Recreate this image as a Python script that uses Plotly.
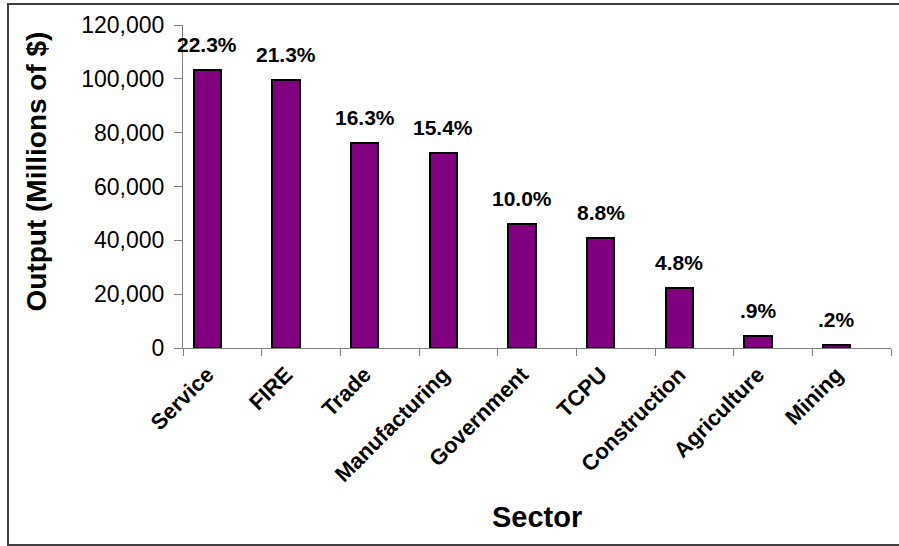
import plotly.graph_objects as go

sectors = ["Service", "FIRE", "Trade", "Manufacturing", "Government",
           "TCPU", "Construction", "Agriculture", "Mining"]
output = [103300, 99500, 76000, 72300, 46000, 40900, 22300, 4300, 1000]
share_labels = ["22.3%", "21.3%", "16.3%", "15.4%", "10.0%", "8.8%", "4.8%", ".9%", ".2%"]
y_ticks = [0, 20000, 40000, 60000, 80000, 100000, 120000]

FONT = "Liberation Sans, Arial, sans-serif"
W, H = 899, 546
L, R, T, B = 183, 8, 25, 198
pw, ph = W - L - R, H - T - B

def px_x(p):
    return (p - L) / pw

def px_y(p):
    return (H - B - p) / ph

fig = go.Figure()
fig.add_trace(go.Bar(
    x=sectors, y=output,
    marker=dict(color="#800080", line=dict(color="#000000", width=2)),
    width=0.345, offset=-0.3625,
    hoverinfo="x+y", showlegend=False,
))

for s, v, lab in zip(sectors, output, share_labels):
    fig.add_annotation(x=s, y=v, text=f"<b>{lab}</b>", showarrow=False,
                       xanchor="center", yanchor="bottom", xshift=-15, yshift=12,
                       font=dict(family=FONT, size=21, color="#000000"))

fig.add_annotation(xref="paper", yref="paper", x=px_x(36), y=px_y(171.5),
                   text="<b>Output (Millions of $)</b>", textangle=-90, showarrow=False,
                   xanchor="center", yanchor="middle",
                   font=dict(family=FONT, size=28, color="#000000"))
fig.add_annotation(xref="paper", yref="paper", x=0.5, y=px_y(517),
                   text="<b>Sector</b>", showarrow=False,
                   xanchor="center", yanchor="middle",
                   font=dict(family=FONT, size=29, color="#000000"))

fig.add_shape(type="rect", xref="paper", yref="paper",
              x0=px_x(8), x1=px_x(905), y0=px_y(545), y1=px_y(4),
              line=dict(color="#404040", width=2), fillcolor="rgba(0,0,0,0)", layer="below")

fig.update_layout(
    width=W, height=H,
    margin=dict(l=L, r=R, t=T, b=B, pad=0),
    paper_bgcolor="#ffffff", plot_bgcolor="#ffffff",
    font=dict(family=FONT, color="#000000"),
    bargap=0,
)
fig.update_xaxes(
    type="category", range=[-0.5, 8.5],
    showline=True, linecolor="#808080", linewidth=1,
    ticks="outside", ticklen=7, tickcolor="#808080", tickwidth=1,
    tickson="boundaries", showgrid=False,
    tickangle=-45, ticklabelshift=-15, ticklabelstandoff=4,
    tickfont=dict(family=FONT, size=22, color="#000000", weight="bold"),
)
fig.update_yaxes(
    range=[0, 120000], tickvals=y_ticks, tickformat=",d",
    showline=True, linecolor="#808080", linewidth=1,
    ticks="outside", ticklen=8, tickcolor="#808080", tickwidth=1,
    showgrid=False, zeroline=False, ticklabelstandoff=5,
    tickfont=dict(family=FONT, size=23, color="#000000"),
)

fig.write_html("out.html")
